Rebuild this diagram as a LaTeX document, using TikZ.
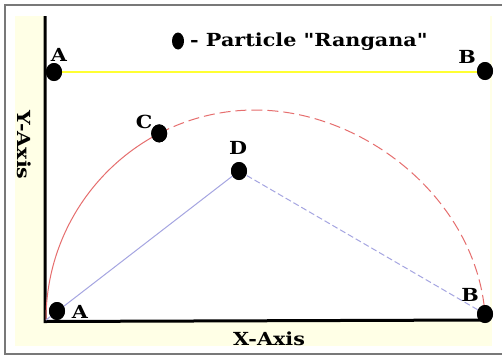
\documentclass[tikz,border=0pt]{standalone}
\usepackage{fontspec}
\setmainfont{DejaVu Serif}
\newfontfamily\lblfont{DejaVu Serif}[FakeStretch=1.15, Ligatures=TeXOff]
\usetikzlibrary{shapes.geometric}
\definecolor{cream}{RGB}{255,255,230}
\definecolor{framegray}{RGB}{120,120,120}
\definecolor{arcred}{RGB}{230,110,110}
\definecolor{pathblue}{RGB}{165,165,225}
\definecolor{trackyellow}{RGB}{255,255,50}
\tikzset{
  dot/.style={ellipse, fill=black, draw=none, minimum width=16pt, minimum height=18pt, inner sep=0pt},
  legenddot/.style={ellipse, fill=black, draw=none, minimum width=12pt, minimum height=17pt, inner sep=0pt},
  lbl/.style={font=\lblfont\bfseries\fontsize{18}{21}\selectfont, inner sep=0pt},
  axisline/.style={line width=3pt, black},
  redline/.style={arcred, line width=1pt},
  blueline/.style={pathblue, line width=1pt},
}
\begin{document}
\begin{tikzpicture}[x=1pt,y=-1pt]
\useasboundingbox (0,0) rectangle (502,356);
% outer frame (right side cut off)
\draw[framegray, line width=1.5pt] (503,5) -- (5,5) -- (5,354) -- (503,354);
% cream panel and white plot area
\fill[cream] (15,16) rectangle (492,346);
\fill[white] (46,16) rectangle (490,320);
% coordinates
\coordinate (O) at (46,320);
\coordinate (P) at (255,110);
% yellow track
\coordinate (T1) at (46,71.5);
\coordinate (T2) at (485,71.5);
\draw[trackyellow, line width=2pt] (T1) -- (T2);
% axes
\coordinate (YT) at (45,16);
\coordinate (XE) at (485,320);
\draw[axisline] (YT) -- (45,321.5) -- (XE);
% nodes
\node[dot] (A1) at (54,72) {};
\node[dot] (B1) at (485,71) {};
\node[dot] (C) at (159.2,133.4) {};
\node[dot] (D) at (239,171) {};
\node[dot] (A2) at (57,311) {};
\node[dot] (B2) at (485,314) {};
% red arc
\draw[redline] (O) .. controls (46,238.8) and (92.1,168.4) .. (C.center);
\draw[redline, dash pattern=on 11pt off 5pt] (C.center) .. controls (187.9,118.5) and (220.5,110) .. (P)
   .. controls (365,110) and (476,200) .. (B2.center);
% blue paths
\draw[blueline] (O) -- (D.center);
\draw[blueline, dash pattern=on 6pt off 3pt] (D.center) -- (B2.center);
% redraw dots on top
\foreach \n in {A1,B1,C,D,A2,B2} \fill[black] (\n.center) ellipse (8pt and 9pt);
% labels
\node[lbl] (LA1) at (59,55) {A};
\node[lbl] (LB1) at (467,57) {B};
\node[lbl] (LC) at (144,122) {C};
\node[lbl] (LD) at (238,148) {D};
\node[lbl] (LA2) at (80,312) {A};
\node[lbl] (LB2) at (470,295) {B};
\node[lbl] (XL) at (269,339) {X-Axis};
\node[lbl, rotate=-90] (YL) at (24,145) {Y-Axis};
% legend
\node[legenddot] (LG) at (178,41) {};
\node[lbl, anchor=base west] (LGT) at (190,46) {- Particle "Rangana"};
\end{tikzpicture}
\end{document}
